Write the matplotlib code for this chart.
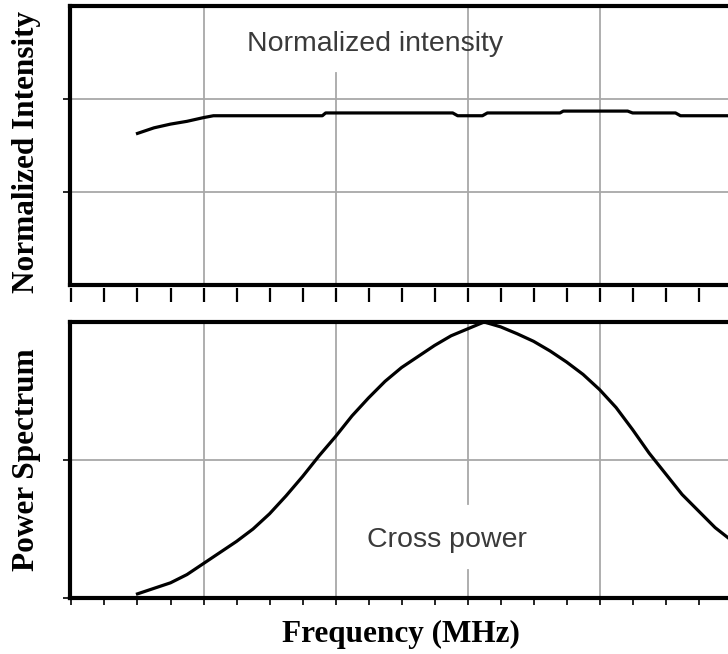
import numpy as np
import matplotlib
matplotlib.use("Agg")
from matplotlib import pyplot as plt
from matplotlib.ticker import MultipleLocator, NullFormatter

# frequency axis in tick units (one minor tick = 1)
freq_int = [2.0, 2.5, 3.0, 3.5, 4.0, 4.3, 7.6, 7.7, 11.55, 11.7, 12.45, 12.6,
            14.8, 14.9, 16.85, 17.0, 18.3, 18.45, 19.9]
norm_int = [1.63, 1.69, 1.73, 1.76, 1.80, 1.82, 1.82, 1.85, 1.85, 1.82, 1.82, 1.85,
            1.85, 1.87, 1.87, 1.85, 1.85, 1.82, 1.82]

freq_pow = [2.0, 2.5, 3.0, 3.5, 4.0, 4.5, 5.0, 5.5, 6.0, 6.5, 7.0, 7.5, 8.0,
            8.5, 9.0, 9.5, 10.0, 10.5, 11.0, 11.5, 12.0, 12.5, 13.0, 13.5,
            14.0, 14.5, 15.0, 15.5, 16.0, 16.5, 17.0, 17.5, 18.0, 18.5, 19.0,
            19.5, 19.9]
cross_pow = [0.03, 0.07, 0.11, 0.17, 0.25, 0.33, 0.41, 0.50, 0.61, 0.74, 0.88,
             1.03, 1.17, 1.32, 1.45, 1.57, 1.67, 1.75, 1.83, 1.90, 1.95, 2.00,
             1.965, 1.915, 1.86, 1.79, 1.71, 1.62, 1.51, 1.38, 1.22, 1.05,
             0.90, 0.75, 0.63, 0.51, 0.435]

W, H = 728, 654
fig = plt.figure(figsize=(W / 100, H / 100), dpi=100)
ax1 = fig.add_axes([69.5 / W, (H - 285) / H, 1 - 69.5 / W, (285 - 6) / H])
ax2 = fig.add_axes([69.5 / W, (H - 598) / H, 1 - 69.5 / W, (598 - 322) / H])

xlim = (-0.06, 19.89)
gcol = '#a8a8a8'
sans = 'Liberation Sans'
serif = 'Liberation Serif'

for ax in (ax1, ax2):
    ax.set_xlim(*xlim)
    for s in ('left', 'top', 'bottom'):
        ax.spines[s].set_linewidth(3)
    ax.spines['right'].set_visible(False)
    ax.xaxis.set_minor_locator(MultipleLocator(1))
    ax.xaxis.set_major_locator(MultipleLocator(4))
    ax.xaxis.set_major_formatter(NullFormatter())
    ax.yaxis.set_major_formatter(NullFormatter())

# top panel
ax1.set_ylim(0, 3)
ax1.set_yticks([1, 2])
for y in (1, 2):
    ax1.axhline(y, color=gcol, lw=1.3, zorder=1)
for x in (4, 12, 16):
    ax1.axvline(x, color=gcol, lw=1.3, zorder=1)
ax1.axvline(8, ymax=0.76, color=gcol, lw=1.3, zorder=1)
ax1.plot(freq_int, norm_int, color='black', lw=2.3, zorder=3)
ax1.text(9.21, 2.59, 'Normalized intensity', fontsize=20.5, family=sans,
         color='#3a3a3a', ha='center', va='center')
ax1.tick_params(axis='x', which='both', bottom=False, top=False)
ax1.tick_params(axis='y', length=5, width=1.2, direction='out')

# detached tick row under the top panel
sec = ax1.secondary_xaxis(-0.012)
sec.spines['bottom'].set_visible(False)
sec.xaxis.set_minor_locator(MultipleLocator(1))
sec.xaxis.set_major_locator(MultipleLocator(4))
sec.xaxis.set_major_formatter(NullFormatter())
sec.tick_params(axis='x', which='both', length=10, width=1.6, direction='out')

# bottom panel
ax2.set_ylim(0, 2)
ax2.set_yticks([0, 1])
ax2.axhline(1, color=gcol, lw=1.3, zorder=1)
for x in (4, 8, 16):
    ax2.axvline(x, color=gcol, lw=1.3, zorder=1)
ax2.axvline(12, ymax=0.10, color=gcol, lw=1.3, zorder=1)
ax2.axvline(12, ymin=0.34, color=gcol, lw=1.3, zorder=1)
ax2.plot(freq_pow, cross_pow, color='black', lw=2.3, zorder=3, clip_on=False,
         solid_joinstyle='round')
ax2.text(11.38, 0.42, 'Cross power', fontsize=20.5, family=sans,
         color='#3a3a3a', ha='center', va='center')
ax2.tick_params(axis='x', which='both', length=5, width=1.2, direction='out')
ax2.tick_params(axis='y', length=5, width=1.2, direction='out')

# labels
fig.text(27 / W, (H - 152) / H, 'Normalized Intensity', rotation=90,
         fontsize=22.5, family=serif, weight='bold', ha='center', va='center')
fig.text(27 / W, (H - 460) / H, 'Power Spectrum', rotation=90,
         fontsize=22.5, family=serif, weight='bold', ha='center', va='center')
fig.text(401 / W, (H - 634) / H, 'Frequency (MHz)', fontsize=22.5, family=serif,
         weight='bold', ha='center', va='center')

fig.savefig('out.png', dpi=100)
